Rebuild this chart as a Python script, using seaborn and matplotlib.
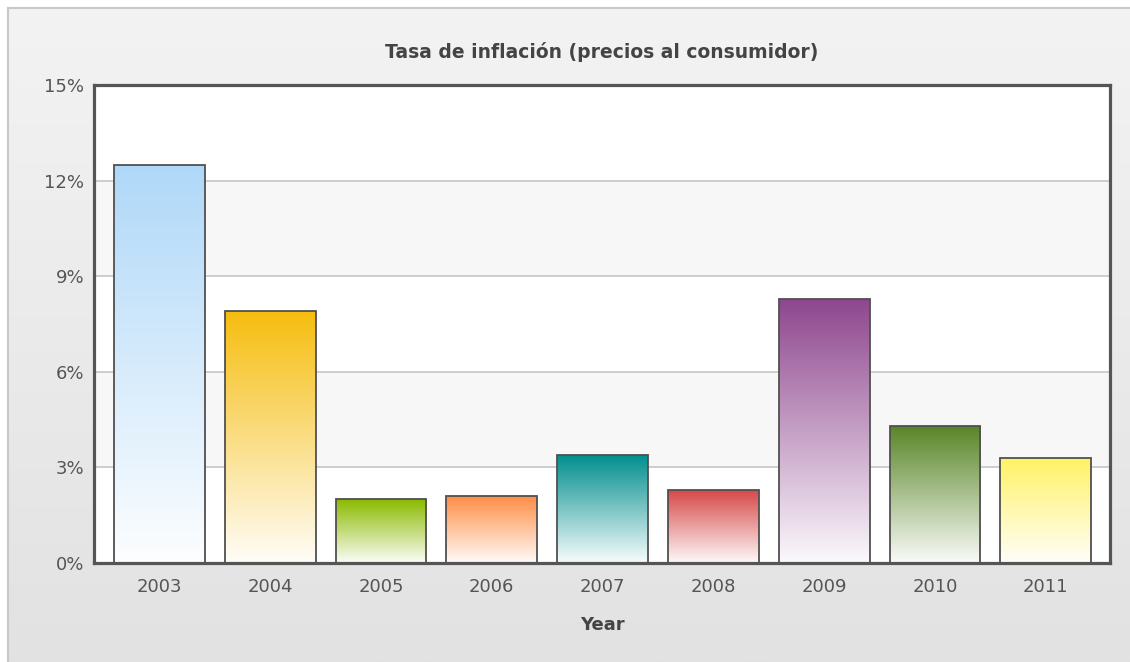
import numpy as np
import pandas as pd
import matplotlib
matplotlib.use("Agg")
import matplotlib.pyplot as plt
import seaborn as sns
from matplotlib.colors import to_rgb

# ---- data ----
years = ["2003", "2004", "2005", "2006", "2007", "2008", "2009", "2010", "2011"]
inflation = [12.5, 7.9, 2.0, 2.1, 3.4, 2.3, 8.3, 4.3, 3.3]
bar_colors = ["#afd8f8", "#f6bd0f", "#8bba00", "#ff8e46", "#008e8e",
              "#d64646", "#8e468e", "#588526", "#fff263"]
y_ticks = [0, 3, 6, 9, 12, 15]
y_tick_labels = ["0%", "3%", "6%", "9%", "12%", "15%"]
title = "Tasa de inflación (precios al consumidor)"
x_title = "Year"

df = pd.DataFrame({"year": years, "value": inflation})

sns.set_theme(style="white")
plt.rcParams["font.family"] = ["DejaVu Sans"]

W, H = 1130, 662
fig = plt.figure(figsize=(W / 100, H / 100), dpi=100)
fig.patch.set_facecolor("white")

# ---- outer background panel with gradient ----
bg = fig.add_axes([8 / W, 0, (W - 8) / W, (H - 8) / H])
grad = np.linspace(0, 1, 256)[:, None]
top_c = np.array(to_rgb("#f3f3f3"))
bot_c = np.array(to_rgb("#e2e2e2"))
img = top_c[None, None, :] * (1 - grad[..., None]) + bot_c[None, None, :] * grad[..., None]
bg.imshow(img, aspect="auto", extent=(0, 1, 0, 1), origin="upper", zorder=0)
bg.set_xlim(0, 1)
bg.set_ylim(0, 1)
bg.set_xticks([])
bg.set_yticks([])
for s in ["left", "top"]:
    bg.spines[s].set_color("#c8c8c8")
    bg.spines[s].set_linewidth(1.5)
for s in ["right", "bottom"]:
    bg.spines[s].set_visible(False)

# ---- main plot ----
L, R, T, B = 94, 1110, 85, 563
ax = fig.add_axes([L / W, 1 - B / H, (R - L) / W, (B - T) / H])
ax.set_facecolor("white")

sns.barplot(data=df, x="year", y="value", hue="year", palette=bar_colors,
            legend=False, width=0.82, ax=ax, zorder=3, saturation=1)

bars = [p for c in ax.containers for p in c]
for p, col in zip(bars, bar_colors):
    x0, y0 = p.get_x(), p.get_y()
    w, h = p.get_width(), p.get_height()
    c = np.array(to_rgb(col))
    t = np.linspace(0, 0.97, 256)[:, None, None]
    g = c[None, None, :] * (1 - t) + np.ones(3)[None, None, :] * t
    im = ax.imshow(g, aspect="auto", extent=(x0, x0 + w, y0, y0 + h),
                   origin="upper", zorder=3)
    im.set_clip_path(p)
    p.set_facecolor("none")
    p.set_edgecolor("#505050")
    p.set_linewidth(1.3)
    p.set_zorder(4)

# alternating bands and grid lines
for lo, hi in [(3, 6), (9, 12)]:
    ax.axhspan(lo, hi, color="#f7f7f7", zorder=0, lw=0)
for yv in y_ticks[1:-1]:
    ax.axhline(yv, color="#cdcdcd", lw=1.4, zorder=1)

ax.set_xlim(-0.59, 8.58)
ax.set_ylim(0, 15)
ax.set_yticks(y_ticks)
ax.set_yticklabels(y_tick_labels)
ax.tick_params(axis="x", length=0, pad=11, labelsize=13, labelcolor="#555555")
ax.tick_params(axis="y", length=0, pad=7, labelsize=13, labelcolor="#555555")
ax.set_ylabel("")
ax.set_xlabel(x_title, fontsize=13, fontweight="bold", color="#444444")
ax.xaxis.set_label_coords(0.5, (B - 625) / (B - T))
ax.xaxis.label.set_va("center")

for s in ax.spines.values():
    s.set_visible(True)
    s.set_color("#555555")
    s.set_linewidth(2.3)
    s.set_zorder(6)

fig.text((L + R) / 2 / W, 1 - 52 / H, title, ha="center", va="center",
         fontsize=13.5, fontweight="bold", color="#444444")

fig.savefig("out.png", dpi=100)
